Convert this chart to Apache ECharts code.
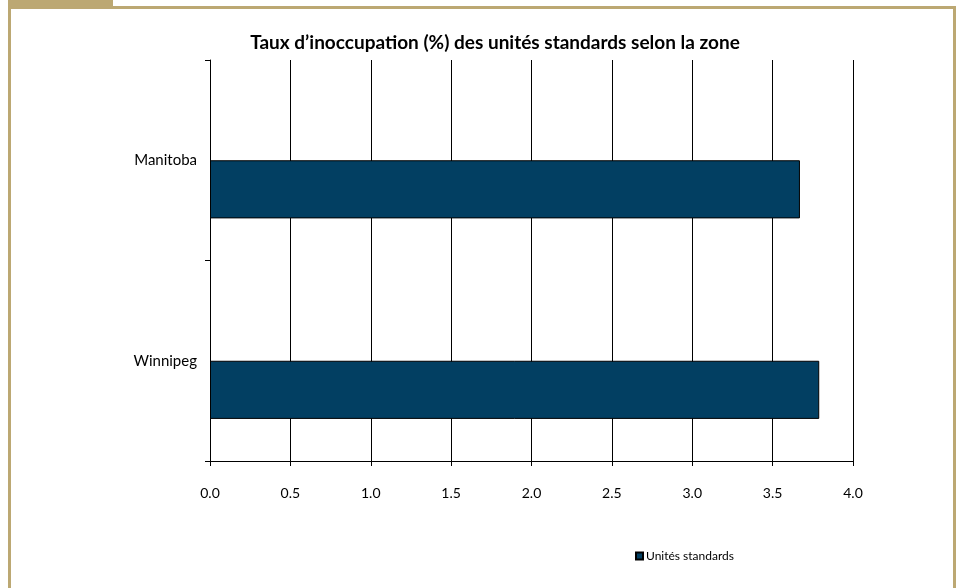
<!DOCTYPE html>
<html>
<head>
<meta charset="utf-8">
<script src="https://cdn.jsdelivr.net/npm/echarts@6/dist/echarts.min.js"></script>
<style>
  html, body { margin: 0; padding: 0; background: #fff; }
  #chart { width: 956px; height: 588px; }
</style>
</head>
<body>
<div id="chart"></div>
<script>
// données
var zones = ['Manitoba', 'Winnipeg'];
var tauxStandards = [3.67, 3.79];
var xTicks = [0, 0.5, 1, 1.5, 2, 2.5, 3, 3.5, 4];

var tan = '#BCA873';
var bleu = '#023F62';
var police = 'Lato, "Open Sans", sans-serif';

var myChart = echarts.init(document.getElementById('chart'));

var option = {
  backgroundColor: '#fff',
  animation: false,
  title: {
    text: 'Taux d\u2019inoccupation (%) des unités standards selon la zone',
    left: 490,
    textAlign: 'center',
    top: 28,
    textStyle: { fontFamily: police, fontWeight: 'bold', fontSize: 19, color: '#000' }
  },
  legend: {
    data: ['Unités standards'],
    left: 630,
    top: 545,
    icon: 'rect',
    itemWidth: 7,
    itemHeight: 7,
    itemGap: 4,
    textStyle: { fontFamily: police, fontSize: 12, color: '#000', padding: [0, 0, 0, -2] }
  },
  grid: { left: 210, right: 103, top: 60, bottom: 127 },
  xAxis: {
    type: 'value',
    min: xTicks[0],
    max: xTicks[xTicks.length - 1],
    interval: 0.5,
    axisLine: { show: true, lineStyle: { color: '#000', width: 1 } },
    axisTick: { show: true, length: 5, lineStyle: { color: '#000' } },
    splitLine: { show: true, lineStyle: { color: '#000', width: 1 } },
    axisLabel: {
      margin: 25,
      fontFamily: police, fontSize: 14, color: '#000',
      formatter: function (v) { return v.toFixed(1); }
    }
  },
  yAxis: {
    type: 'category',
    data: zones,
    inverse: true,
    axisLine: { show: true, lineStyle: { color: '#000', width: 1 } },
    axisTick: { show: true, length: 5, lineStyle: { color: '#000' } },
    axisLabel: { margin: 13, fontFamily: police, fontSize: 15, color: '#000' }
  },
  series: [
    {
      // série vide (place réservée comme dans le graphique d'origine)
      name: 'vide',
      type: 'bar',
      data: zones.map(function () { return null; }),
      barGap: '0%',
      barCategoryGap: '42%'
    },
    {
      name: 'Unités standards',
      type: 'bar',
      data: tauxStandards,
      barGap: '0%',
      barCategoryGap: '42%',
      itemStyle: { color: bleu, borderColor: '#000', borderWidth: 1 }
    }
  ],
  graphic: [
    { type: 'rect', shape: { x: 8, y: 0, width: 105, height: 8 }, style: { fill: tan }, silent: true },
    { type: 'rect', shape: { x: 8, y: 6, width: 948, height: 3 }, style: { fill: tan }, silent: true },
    { type: 'rect', shape: { x: 8, y: 0, width: 3, height: 588 }, style: { fill: tan }, silent: true },
    { type: 'rect', shape: { x: 953, y: 6, width: 3, height: 582 }, style: { fill: tan }, silent: true }
  ]
};

myChart.setOption(option);
</script>
</body>
</html>
